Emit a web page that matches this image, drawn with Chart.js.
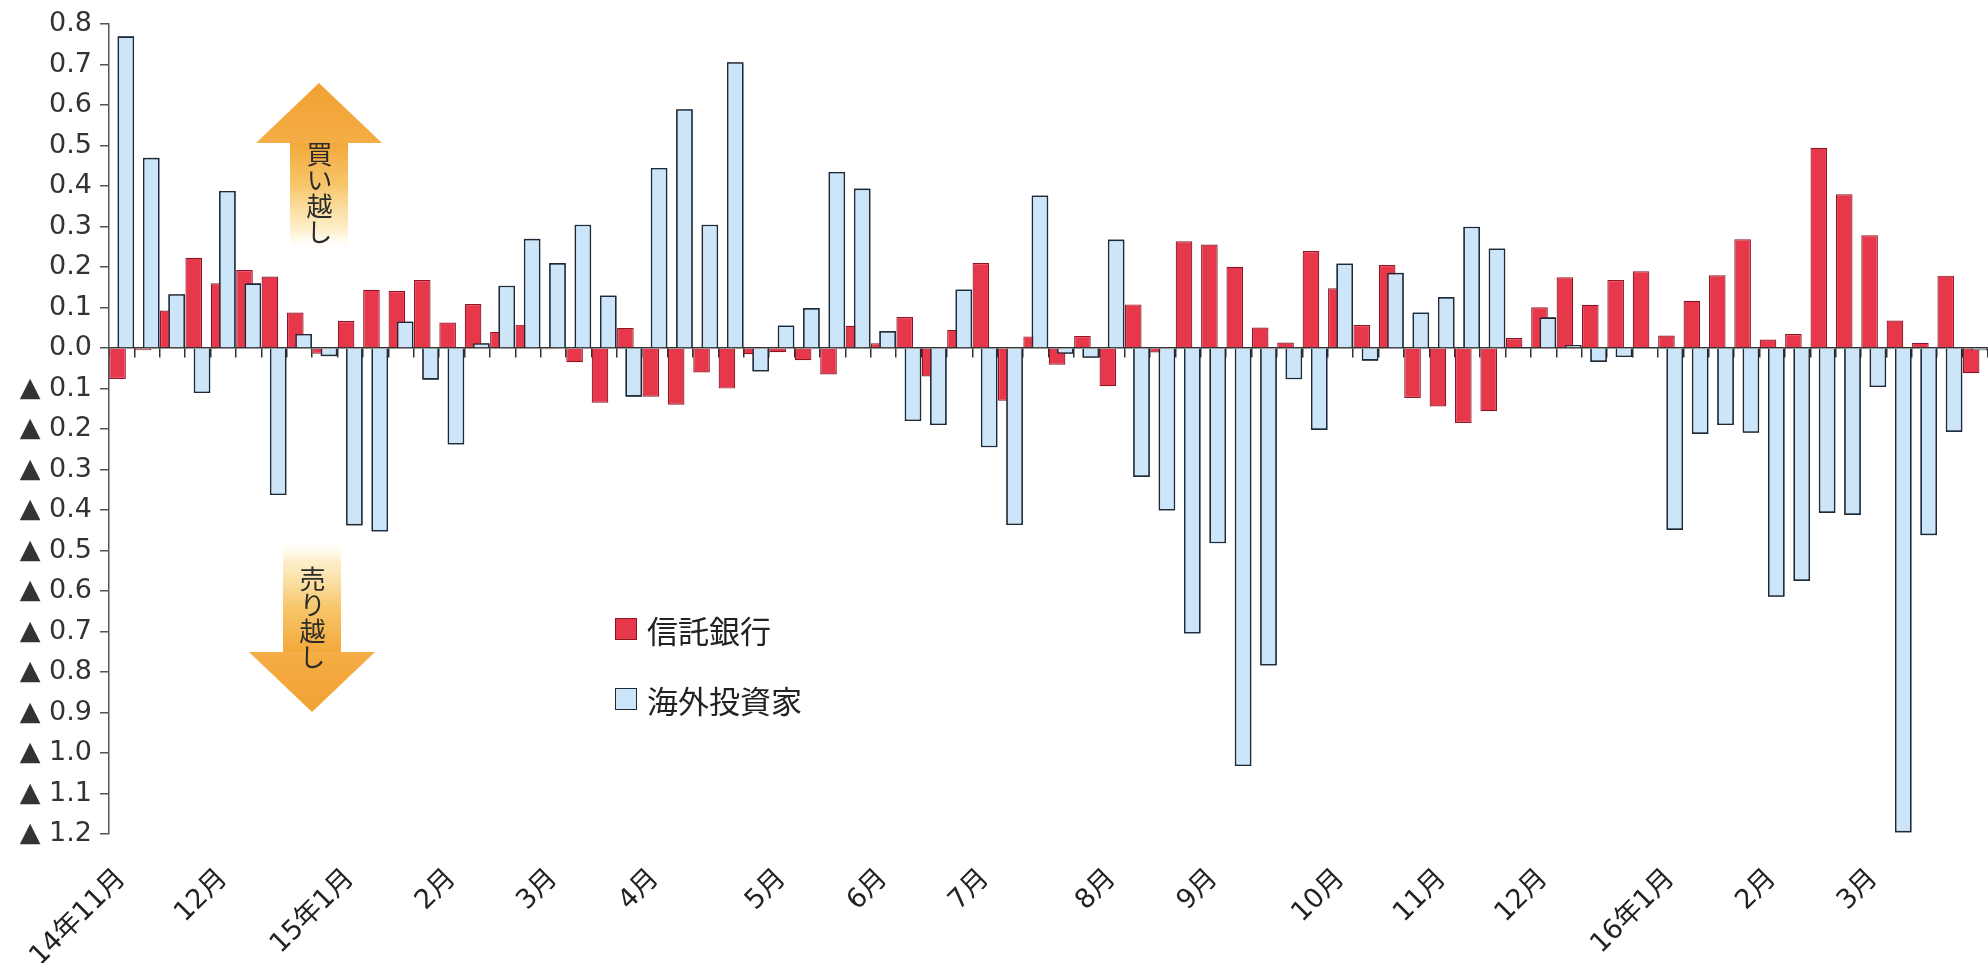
<!DOCTYPE html>
<html lang="ja">
<head>
<meta charset="utf-8">
<title>信託銀行と海外投資家の売買</title>
<script src="https://cdn.jsdelivr.net/npm/chart.js@4.4.1/dist/chart.umd.min.js"></script>
<style>
  html, body { margin: 0; padding: 0; background: #fff; }
  #wrap { position: relative; width: 1988px; height: 963px; overflow: hidden; }
  #chart { position: absolute; left: 0; top: 0; }
  .note {
    position: absolute;
    writing-mode: vertical-rl;
    text-orientation: upright;
    font-family: "Noto Sans CJK JP", sans-serif;
    font-size: 26px;
    line-height: 26px;
    color: #2b2b2b;
  }
  #legend {
    position: absolute;
    left: 615px;
    top: 610px;
    font-family: "Noto Sans CJK JP", sans-serif;
    font-size: 31px;
    color: #222;
  }
  .item { display: flex; align-items: center; height: 38px; margin-bottom: 32px; }
  .box { width: 20px; height: 20px; margin-right: 10px; border-style: solid; border-width: 1.5px; }
</style>
</head>
<body>
<div id="wrap">
  <canvas id="chart" width="1988" height="963"></canvas>
  <div class="note" style="left:306px; top:141px;">買い越し</div>
  <div class="note" style="left:299px; top:566px;">売り越し</div>
  <div id="legend"></div>
</div>
<script>
// weekly net buying (trillion yen), first week of Nov 2014 .. last week of Mar 2016
const weekCount = 74;
const monthNames = ["14年11月", "12月", "15年1月", "2月", "3月", "4月", "5月", "6月", "7月",
  "8月", "9月", "10月", "11月", "12月", "16年1月", "2月", "3月"];
const monthFirstWeek = [0, 4, 9, 13, 17, 21, 26, 30, 34, 39, 43, 48, 52, 56, 61, 65, 69];

const trustBanks = [
  -0.076, -0.005, 0.093, 0.223, 0.160, 0.193, 0.177, 0.088, -0.014, 0.067,
  0.144, 0.141, 0.168, 0.063, 0.109, 0.040, 0.058, -0.003, -0.035, -0.135,
  0.050, -0.120, -0.140, -0.060, -0.100, -0.015, -0.010, -0.030, -0.065, 0.055,
  0.012, 0.077, -0.070, 0.045, 0.210, -0.130, 0.029, -0.041, 0.030, -0.094,
  0.108, -0.011, 0.264, 0.256, 0.201, 0.051, 0.014, 0.240, 0.148, 0.057,
  0.205, -0.123, -0.144, -0.185, -0.156, 0.025, 0.101, 0.175, 0.107, 0.168,
  0.190, 0.031, 0.117, 0.180, 0.269, 0.021, 0.035, 0.495, 0.380, 0.279,
  0.068, 0.013, 0.179, -0.062
];

const foreigners = [
  0.770, 0.470, 0.133, -0.111, 0.388, 0.160, -0.363, 0.035, -0.020, -0.438,
  -0.453, 0.066, -0.078, -0.238, 0.012, 0.154, 0.270, 0.210, 0.305, 0.130,
  -0.120, 0.445, 0.590, 0.305, 0.706, -0.058, 0.056, 0.099, 0.435, 0.394,
  0.042, -0.180, -0.190, 0.145, -0.245, -0.437, 0.377, -0.014, -0.024, 0.268,
  -0.318, -0.401, -0.705, -0.482, -1.032, -0.784, -0.077, -0.202, 0.209, -0.031,
  0.186, 0.088, 0.126, 0.300, 0.246, 0.000, 0.076, 0.008, -0.034, -0.022,
  0.000, -0.449, -0.212, -0.190, -0.209, -0.614, -0.575, -0.407, -0.412, -0.096,
  -1.196, -0.462, -0.207, -0.005
];

const yMin = -1.2;
const yMax = 0.8;
const yStep = 0.1;

// one label per week, only the first week of each month gets text
let labels = [];
for (let i = 0; i < weekCount; i++) {
  labels.push("");
}
monthFirstWeek.forEach((w, k) => {
  labels[w] = monthNames[k];
});

// orange arrow, fading shaft
function drawArrow(ctx, cx, tipY, baseY, tailY) {
  const headHalf = 63;
  const shaftHalf = 29;
  ctx.save();
  let g = ctx.createLinearGradient(0, baseY, 0, tailY);
  g.addColorStop(0, "rgba(243,168,58,1)");
  g.addColorStop(0.4, "rgba(247,196,100,0.95)");
  g.addColorStop(0.8, "rgba(252,232,180,0.7)");
  g.addColorStop(1, "rgba(255,255,255,0)");
  ctx.fillStyle = g;
  ctx.fillRect(cx - shaftHalf, Math.min(baseY, tailY), shaftHalf * 2, Math.abs(tailY - baseY));
  let h = ctx.createLinearGradient(0, tipY, 0, baseY);
  h.addColorStop(0, "#f2a133");
  h.addColorStop(1, "#f5ad45");
  ctx.fillStyle = h;
  ctx.beginPath();
  ctx.moveTo(cx, tipY);
  ctx.lineTo(cx + headHalf, baseY);
  ctx.lineTo(cx - headHalf, baseY);
  ctx.closePath();
  ctx.fill();
  ctx.restore();
}

const extras = {
  id: "extras",
  beforeDatasetsDraw(chart) {
    drawArrow(chart.ctx, 319, 83, 143, 252);
    drawArrow(chart.ctx, 312, 712, 652, 538);
  },
  afterDatasetsDraw(chart) {
    // the blue bars sit on top of the red ones
    chart.getDatasetMeta(1).controller.draw();
  }
};

const tickFont = { family: "'DejaVu Sans', 'Noto Sans CJK JP', sans-serif", size: 27 };

const chart = new Chart(document.getElementById("chart"), {
  type: "bar",
  data: {
    labels: labels,
    datasets: [
      {
        label: "信託銀行",
        data: trustBanks,
        backgroundColor: "#e6384a",
        borderColor: "#8e1526",
        borderWidth: 1.2
      },
      {
        label: "海外投資家",
        data: foreigners,
        backgroundColor: "#cde5f8",
        borderColor: "#1e2a38",
        borderWidth: 1.6
      }
    ]
  },
  options: {
    responsive: false,
    devicePixelRatio: 1,
    animation: false,
    layout: { padding: { top: 23, left: 0, right: 0, bottom: 0 } },
    datasets: {
      bar: { categoryPercentage: 0.654, barPercentage: 2.0 }
    },
    plugins: {
      legend: { display: false },
      tooltip: { enabled: false }
    },
    scales: {
      x: {
        position: "bottom",
        grid: { display: false, drawTicks: false },
        border: { display: false },
        ticks: {
          autoSkip: false,
          minRotation: 45,
          maxRotation: 45,
          padding: 29,
          color: "#222",
          font: tickFont
        },
        afterFit: (s) => {
          s.height = 129;
          s.paddingLeft = 0;
          s.paddingRight = 0;
        }
      },
      xZero: {
        type: "category",
        position: { y: 0 },
        offset: true,
        z: 1,
        grid: { offset: true, drawOnChartArea: false, tickLength: 9, color: "#333", lineWidth: 1.5 },
        border: { color: "#333", width: 1.5 },
        ticks: { display: false },
        afterFit: (s) => {
          s.paddingLeft = 0;
          s.paddingRight = 0;
        }
      },
      y: {
        min: yMin,
        max: yMax,
        grid: { drawOnChartArea: false, tickLength: 9, color: "#555", lineWidth: 1.5 },
        border: { color: "#555", width: 1.5 },
        ticks: {
          stepSize: yStep,
          maxTicksLimit: 30,
          padding: 8,
          color: "#333",
          font: tickFont,
          callback: (v) => v < -0.001 ? "▲ " + Math.abs(v).toFixed(1) : v.toFixed(1)
        },
        afterFit: (s) => { s.width = 109; }
      }
    }
  },
  plugins: [extras]
});

// legend as html text
let legend = document.getElementById("legend");
chart.data.datasets.forEach((ds) => {
  let item = document.createElement("div");
  item.classList.add("item");
  let box = document.createElement("span");
  box.classList.add("box");
  box.style.background = ds.backgroundColor;
  box.style.borderColor = ds.borderColor;
  let text = document.createElement("span");
  text.innerText = ds.label;
  item.appendChild(box);
  item.appendChild(text);
  legend.appendChild(item);
});
</script>
</body>
</html>
